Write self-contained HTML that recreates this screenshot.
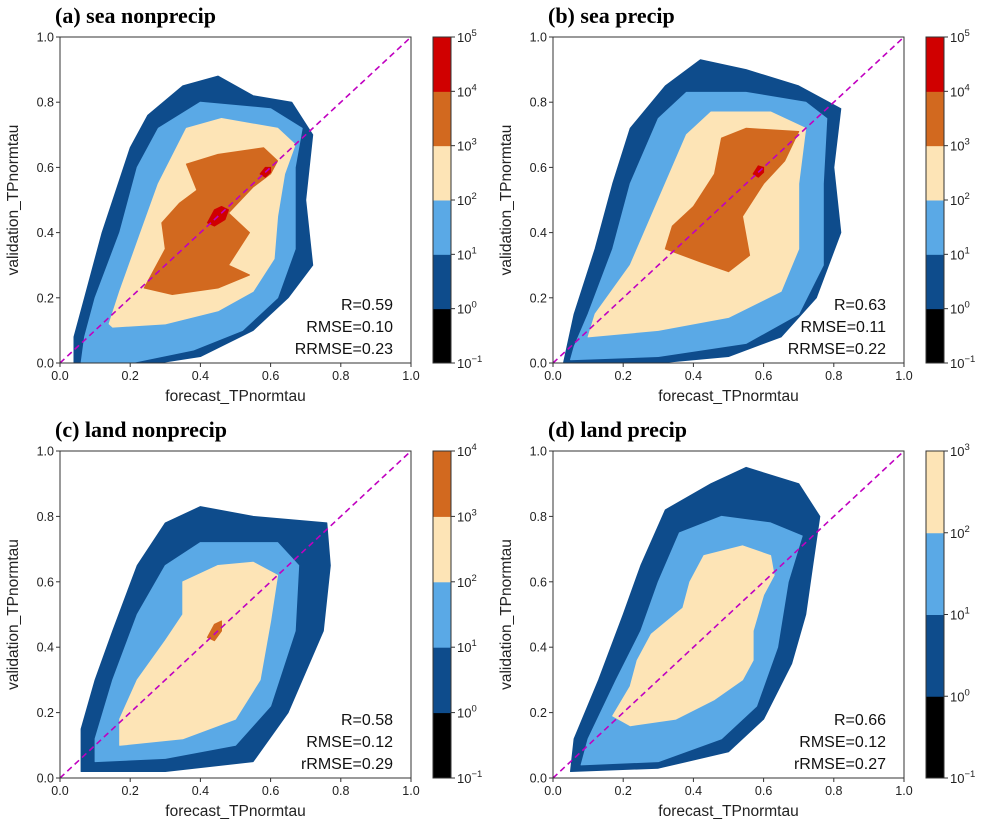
<!DOCTYPE html>
<html><head><meta charset="utf-8"><style>
body{margin:0;background:#fff;}
svg{display:block;font-family:"Liberation Sans",sans-serif;}
</style></head><body>
<svg id="fig" width="990" height="831" xmlns="http://www.w3.org/2000/svg"></svg>
<script>
const xTicks=[0,0.2,0.4,0.6,0.8,1.0];
const yTicks=[0,0.2,0.4,0.6,0.8,1.0];
const levelColors=["#000000","#0e4c8c","#5aa9e6","#fde4b6","#d2691f","#d00000"];
const titles=["(a) sea nonprecip","(b) sea precip","(c) land nonprecip","(d) land precip"];
const statsA=["R=0.59","RMSE=0.10","RRMSE=0.23"];
const statsB=["R=0.63","RMSE=0.11","RRMSE=0.22"];
const statsC=["R=0.58","RMSE=0.12","rRMSE=0.29"];
const statsD=["R=0.66","RMSE=0.12","rRMSE=0.27"];
const cbarMaxExp=[5,5,4,3];
const contA=[
[1,[[0.04,0],[0.28,0],[0.4,0.02],[0.55,0.1],[0.65,0.2],[0.72,0.3],[0.70,0.5],[0.72,0.70],[0.66,0.80],[0.55,0.82],[0.45,0.88],[0.35,0.85],[0.25,0.76],[0.2,0.66],[0.12,0.4],[0.07,0.2],[0.04,0.08]]],
[2,[[0.06,0],[0.2,0],[0.38,0.04],[0.52,0.1],[0.62,0.2],[0.67,0.35],[0.67,0.6],[0.69,0.72],[0.6,0.78],[0.4,0.80],[0.28,0.72],[0.22,0.6],[0.17,0.4],[0.1,0.2],[0.07,0.08]]],
[3,[[0.15,0.11],[0.3,0.12],[0.45,0.16],[0.55,0.22],[0.61,0.32],[0.62,0.45],[0.64,0.58],[0.67,0.67],[0.62,0.72],[0.46,0.75],[0.36,0.72],[0.28,0.55],[0.23,0.4],[0.17,0.22],[0.14,0.12]]],
[4,[[0.24,0.23],[0.32,0.21],[0.45,0.23],[0.54,0.27],[0.48,0.3],[0.54,0.40],[0.48,0.46],[0.55,0.54],[0.6,0.58],[0.62,0.62],[0.58,0.66],[0.45,0.64],[0.36,0.61],[0.39,0.53],[0.34,0.49],[0.29,0.43],[0.30,0.35]]],
[5,[[0.42,0.43],[0.44,0.47],[0.46,0.48],[0.48,0.47],[0.47,0.44],[0.44,0.42]]],
[5,[[0.57,0.58],[0.585,0.6],[0.6,0.6],[0.6,0.585],[0.585,0.57]]]
];
const contB=[
[1,[[0.03,0],[0.3,0],[0.5,0.02],[0.65,0.08],[0.75,0.2],[0.82,0.4],[0.80,0.6],[0.82,0.78],[0.7,0.85],[0.55,0.90],[0.42,0.93],[0.32,0.85],[0.22,0.72],[0.17,0.55],[0.12,0.35],[0.06,0.15]]],
[2,[[0.05,0.01],[0.3,0.02],[0.55,0.06],[0.7,0.15],[0.77,0.3],[0.77,0.55],[0.78,0.75],[0.72,0.80],[0.55,0.83],[0.38,0.83],[0.3,0.75],[0.22,0.55],[0.17,0.35],[0.1,0.15],[0.06,0.05]]],
[3,[[0.1,0.08],[0.3,0.1],[0.5,0.14],[0.65,0.22],[0.7,0.35],[0.7,0.55],[0.72,0.72],[0.62,0.77],[0.45,0.77],[0.38,0.7],[0.3,0.5],[0.22,0.3],[0.12,0.15]]],
[4,[[0.32,0.35],[0.42,0.31],[0.5,0.28],[0.56,0.33],[0.54,0.45],[0.60,0.55],[0.66,0.62],[0.70,0.71],[0.55,0.72],[0.48,0.69],[0.46,0.58],[0.40,0.48],[0.34,0.42]]],
[5,[[0.57,0.58],[0.585,0.605],[0.6,0.6],[0.6,0.585],[0.585,0.57]]]
];
const contC=[
[1,[[0.06,0.02],[0.3,0.02],[0.55,0.05],[0.65,0.2],[0.75,0.45],[0.77,0.65],[0.76,0.78],[0.55,0.80],[0.40,0.83],[0.3,0.78],[0.22,0.65],[0.15,0.45],[0.1,0.3],[0.06,0.15]]],
[2,[[0.1,0.05],[0.3,0.06],[0.5,0.1],[0.6,0.22],[0.67,0.45],[0.68,0.65],[0.62,0.72],[0.4,0.72],[0.3,0.65],[0.22,0.5],[0.15,0.3],[0.1,0.12]]],
[3,[[0.17,0.1],[0.35,0.12],[0.5,0.18],[0.57,0.3],[0.6,0.48],[0.62,0.62],[0.55,0.66],[0.45,0.65],[0.35,0.6],[0.35,0.5],[0.3,0.42],[0.22,0.3],[0.17,0.18]]],
[4,[[0.42,0.43],[0.44,0.47],[0.46,0.48],[0.46,0.45],[0.44,0.42]]]
];
const contD=[
[1,[[0.05,0.02],[0.3,0.03],[0.5,0.08],[0.6,0.18],[0.68,0.35],[0.72,0.5],[0.74,0.65],[0.76,0.8],[0.7,0.9],[0.55,0.95],[0.45,0.9],[0.32,0.82],[0.25,0.65],[0.2,0.5],[0.13,0.3],[0.06,0.12]]],
[2,[[0.08,0.04],[0.3,0.05],[0.48,0.12],[0.58,0.22],[0.64,0.4],[0.67,0.6],[0.71,0.74],[0.62,0.78],[0.48,0.8],[0.36,0.75],[0.3,0.6],[0.25,0.45],[0.18,0.3],[0.1,0.12]]],
[3,[[0.17,0.19],[0.22,0.16],[0.35,0.18],[0.46,0.24],[0.54,0.30],[0.57,0.36],[0.57,0.45],[0.6,0.56],[0.63,0.62],[0.62,0.68],[0.54,0.71],[0.43,0.68],[0.39,0.60],[0.37,0.52],[0.28,0.44],[0.24,0.36],[0.22,0.28]]]
];
const panels=[
{l:60,r:411,t:37,b:363,cb:433,cont:contA,stats:statsA},
{l:553,r:904,t:37,b:363,cb:926,cont:contB,stats:statsB},
{l:60,r:411,t:451,b:778,cb:433,cont:contC,stats:statsC},
{l:553,r:904,t:451,b:778,cb:926,cont:contD,stats:statsD}
];
const NS="http://www.w3.org/2000/svg";
const svg=document.getElementById('fig');
function mk(tag,attrs,parent,text){const e=document.createElementNS(NS,tag);for(const k in attrs)e.setAttribute(k,attrs[k]);if(text!==undefined)e.textContent=text;(parent||svg).appendChild(e);return e;}
panels.forEach((p,i)=>{
 const sx=v=>p.l+v*(p.r-p.l), sy=v=>p.b-v*(p.b-p.t);
 const g=mk('g',{});
 
 
 const t=mk('text',{x:p.l-5,y:p.t-14,'font-family':'"Liberation Serif",serif','font-weight':'bold','font-size':'22'},g,titles[i]);
 
 
 p.cont.forEach(c=>{
  const pts=c[1].map(q=>sx(q[0]).toFixed(1)+','+sy(q[1]).toFixed(1)).join(' ');
  const pg=mk('polygon',{points:pts,fill:levelColors[c[0]],stroke:levelColors[c[0]],'stroke-width':1,'stroke-linejoin':'round'},g);
  
  
 });
 const dl=mk('line',{x1:sx(0),y1:sy(0),x2:sx(1),y2:sy(1),stroke:'#c000c0','stroke-width':1.6,'stroke-dasharray':'6,4'},g);
 
 
 const fr=mk('rect',{x:p.l,y:p.t,width:p.r-p.l,height:p.b-p.t,fill:'none',stroke:'#333','stroke-width':1},g);
 
 
 xTicks.forEach(v=>{
  mk('line',{x1:sx(v),x2:sx(v),y1:p.b,y2:p.b+4,stroke:'#333'},g);
  const tl=mk('text',{x:sx(v),y:p.b+17,'font-size':'12.5','text-anchor':'middle',fill:'#222'},g,v.toFixed(1));
  
  
 });
 yTicks.forEach(v=>{
  mk('line',{x1:p.l-4,x2:p.l,y1:sy(v),y2:sy(v),stroke:'#333'},g);
  const tl=mk('text',{x:p.l-6,y:sy(v)+4.5,'font-size':'12.5','text-anchor':'end',fill:'#222'},g,v.toFixed(1));
  
  
 });
 const xl=mk('text',{x:(p.l+p.r)/2,y:p.b+38,'font-size':'15.5','text-anchor':'middle',fill:'#222'},g,'forecast_TPnormtau');
 
 
 const yc=(p.t+p.b)/2, yx=p.l-42;
 const yl=mk('text',{x:yx,y:yc,'font-size':'15.5','text-anchor':'middle',fill:'#222',transform:`rotate(-90 ${yx} ${yc})`},g,'validation_TPnormtau');
 
 
 p.stats.forEach((s,k)=>{
  const st=mk('text',{x:p.r-18,y:p.b-53+k*22,'font-size':'16','text-anchor':'end',fill:'#111'},g,s);
  
  
 });
 const n=cbarMaxExp[i]+1, h=(p.b-p.t)/n;
 for(let k=0;k<n;k++){
  const r=mk('rect',{x:p.cb,y:p.b-(k+1)*h,width:18,height:h+0.5,fill:levelColors[k]},g);
  
  
 }
 mk('rect',{x:p.cb,y:p.t,width:18,height:p.b-p.t,fill:'none',stroke:'#333'},g);
 for(let k=0;k<=n;k++){
  const e=k-1, yy=p.b-k*h;
  mk('line',{x1:p.cb+18,x2:p.cb+22,y1:yy,y2:yy,stroke:'#333'},g);
  const cl=mk('text',{x:p.cb+24,y:yy+5,'font-size':'13',fill:'#222'},g);
  
  
  mk('tspan',{},cl,'10');
  mk('tspan',{dy:'-6','font-size':'9.5'},cl,e<0?'\u2212'+(-e):String(e));
 }
});
</script>
</body></html>
